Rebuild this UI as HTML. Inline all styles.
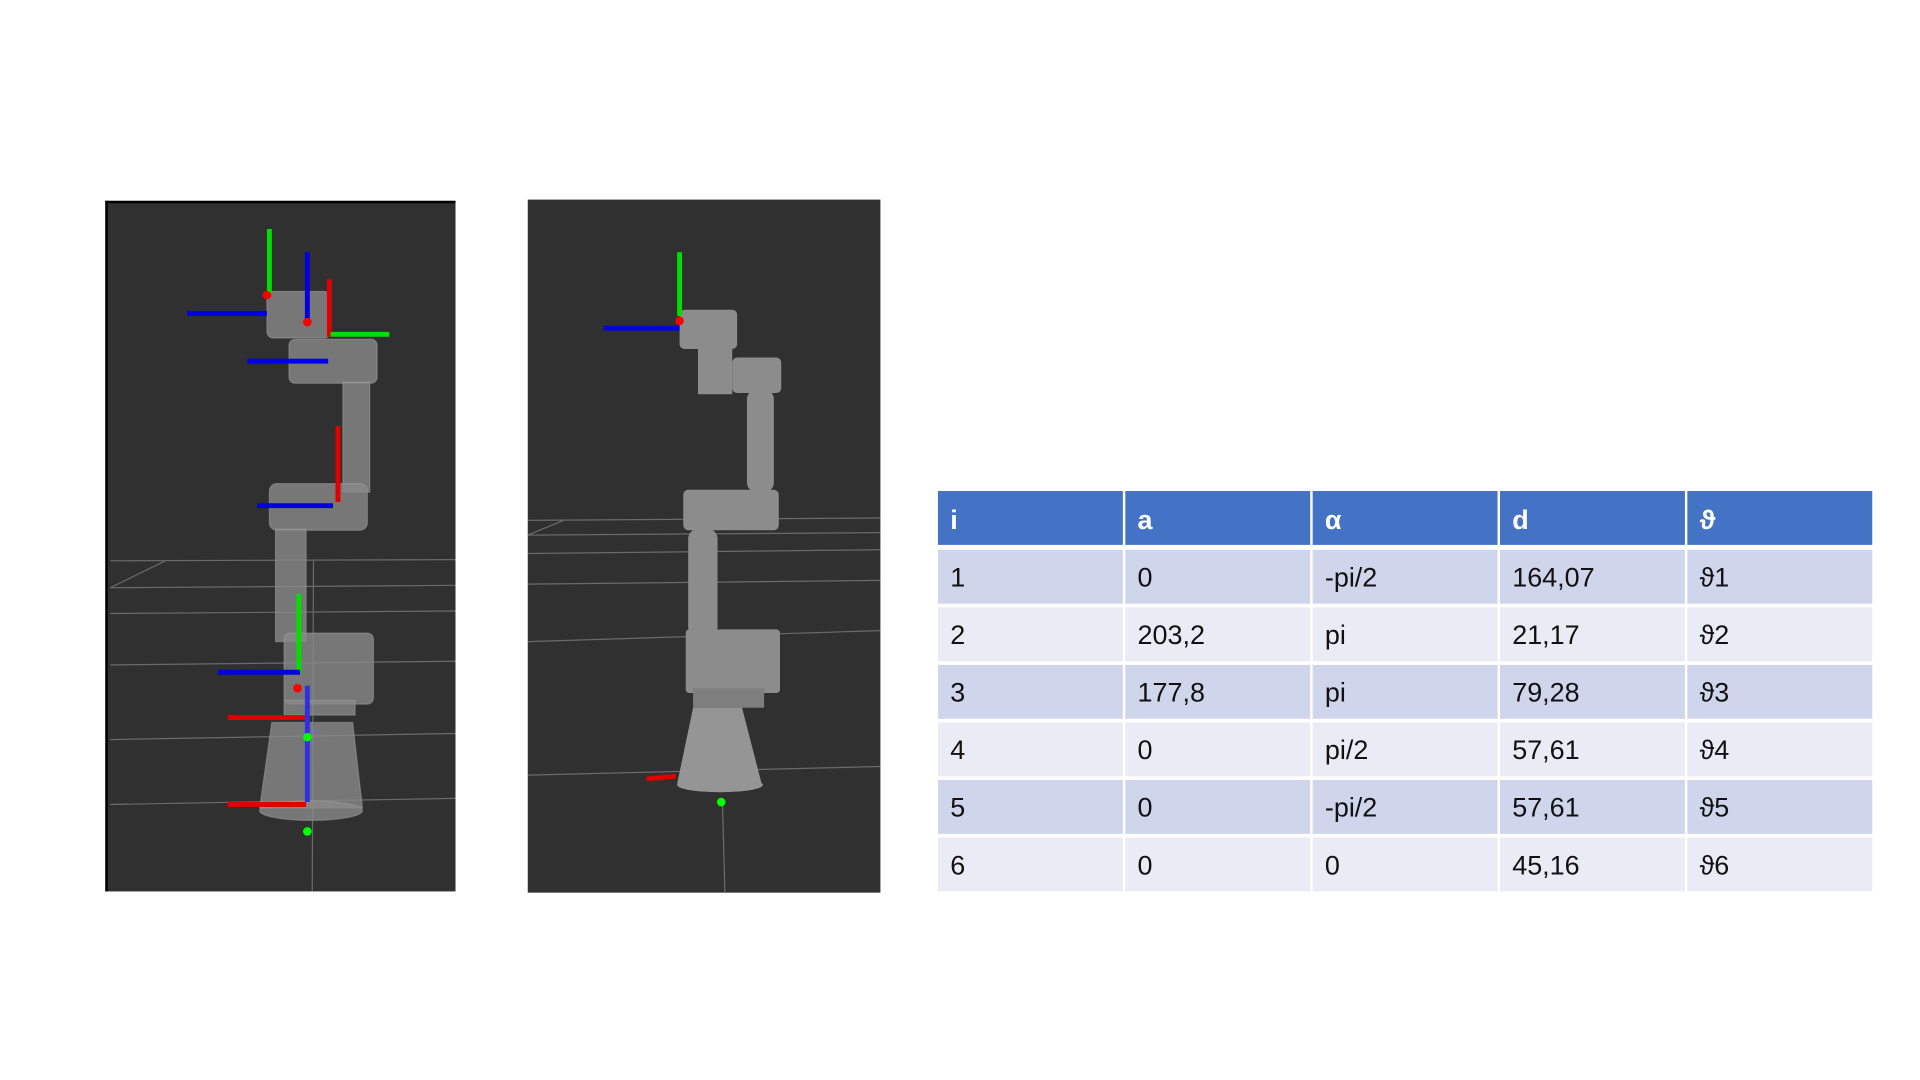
<!DOCTYPE html>
<html><head><meta charset="utf-8"><style>
html,body{margin:0;padding:0;background:#fff;}
svg{display:block;}
text{font-family:"Liberation Sans","DejaVu Sans",sans-serif;}
</style></head><body>
<svg width="1920" height="1080" viewBox="0 0 1568 882" xmlns="http://www.w3.org/2000/svg">
<rect width="1568" height="882" fill="#fff"/>

<!-- Left panel -->
<g>
<rect x="86" y="164" width="286" height="564" fill="#303030"/>
<rect x="86" y="164" width="286" height="2" fill="#000"/>
<rect x="86" y="164" width="2" height="564" fill="#000"/>
<g stroke="#6a6a6a" stroke-width="1" fill="none">
<line x1="90" y1="458" x2="372" y2="457"/><line x1="90" y1="480" x2="372" y2="478"/>
<line x1="90" y1="501" x2="372" y2="499"/><line x1="90" y1="543" x2="372" y2="540"/>
<line x1="90" y1="604" x2="372" y2="599"/><line x1="90" y1="657" x2="372" y2="652"/>
<line x1="90" y1="480" x2="135" y2="458"/><line x1="256" y1="458" x2="255" y2="728"/>
</g>
<g fill="#8a8a8a" fill-opacity="0.8" stroke="#a0a0a0" stroke-opacity="0.5">
<rect x="218" y="238" width="52" height="38" rx="5"/>
<rect x="236" y="277" width="72" height="36" rx="5"/>
<rect x="280" y="312" width="22" height="90"/>
<rect x="220" y="395" width="80" height="38" rx="6"/>
<rect x="225" y="432" width="25" height="92"/>
<rect x="232" y="517" width="73" height="58" rx="5"/>
<rect x="232" y="572" width="58" height="12"/>
<polygon points="222,590 288,590 296,660 212,660"/>
<ellipse cx="254" cy="662" rx="42" ry="8"/>
</g>
<g stroke-width="4">
<line x1="220" y1="187" x2="220" y2="240" stroke="#00e000"/>
<line x1="153" y1="256" x2="218" y2="256" stroke="#0000e0"/>
<line x1="251" y1="206" x2="251" y2="262" stroke="#0000e0"/>
<line x1="269" y1="228" x2="269" y2="275" stroke="#e00000"/>
<line x1="270" y1="273" x2="318" y2="273" stroke="#00e000"/>
<line x1="202" y1="295" x2="268" y2="295" stroke="#0000e0"/>
<line x1="276" y1="348" x2="276" y2="410" stroke="#e00000"/>
<line x1="210" y1="413" x2="272" y2="413" stroke="#0000e0"/>
<line x1="244" y1="485" x2="244" y2="550" stroke="#00e000"/>
<line x1="178" y1="549" x2="245" y2="549" stroke="#0000e0"/>
<line x1="186" y1="586" x2="250" y2="586" stroke="#e00000"/>
<line x1="251" y1="560" x2="251" y2="655" stroke="#3030e0"/>
<line x1="186" y1="657" x2="250" y2="657" stroke="#e00000"/>
<circle cx="218" cy="241" r="3.5" fill="#f00"/><circle cx="251" cy="263" r="3.5" fill="#f00"/>
<circle cx="243" cy="562" r="3.5" fill="#f00"/>
<circle cx="251" cy="602" r="3.5" fill="#0f0"/><circle cx="251" cy="679" r="3.5" fill="#0f0"/>
</g>
</g>

<!-- Right panel -->
<g>
<rect x="431" y="163" width="288" height="566" fill="#303030"/>
<g stroke="#6a6a6a" stroke-width="1" fill="none">
<line x1="431" y1="425" x2="719" y2="423"/><line x1="431" y1="437" x2="719" y2="435"/>
<line x1="431" y1="452" x2="719" y2="449"/><line x1="431" y1="477" x2="719" y2="474"/>
<line x1="431" y1="524" x2="719" y2="515"/><line x1="431" y1="633" x2="719" y2="626"/>
<line x1="431" y1="437" x2="460" y2="425"/><line x1="590" y1="655" x2="592" y2="729"/>
</g>
<g fill="#8c8c8c">
<rect x="555" y="253" width="47" height="32" rx="4"/>
<rect x="570" y="284" width="28" height="38"/>
<rect x="598" y="292" width="40" height="29" rx="4"/>
<rect x="610" y="318" width="22" height="84" rx="8"/>
<rect x="558" y="400" width="78" height="33" rx="4"/>
<rect x="562" y="432" width="24" height="88" rx="8"/>
<rect x="560" y="514" width="77" height="52" rx="3"/>
<rect x="566" y="562" width="58" height="16" fill="#7e7e7e"/>
<polygon points="566,578 606,578 622,640 553,640" fill="#959595"/>
<ellipse cx="588" cy="641" rx="35" ry="6" fill="#959595"/>
</g>
<g stroke-width="4">
<line x1="555" y1="206" x2="555" y2="258" stroke="#00e000"/>
<line x1="493" y1="268" x2="555" y2="268" stroke="#0000e0"/>
<line x1="528" y1="636" x2="552" y2="634" stroke="#e00000"/>
<circle cx="555" cy="262" r="3.5" fill="#f00"/>
<circle cx="589" cy="655" r="3.5" fill="#0f0"/>
</g>
</g>

<!-- DH table -->
<g>
<rect x="766" y="401" width="763" height="44" fill="#4472C4"/>
<g fill="#fff" font-weight="bold" font-size="22">
<text x="776" y="432">i</text><text x="929" y="432">a</text><text x="1082" y="432">α</text><text x="1235" y="432">d</text><text x="1388" y="432">ϑ</text>
</g>
<g id="rows"></g>
<g fill="#fff">
<rect x="917" y="401" width="2" height="327"/><rect x="1070" y="401" width="2" height="327"/>
<rect x="1223" y="401" width="2" height="327"/><rect x="1376" y="401" width="2" height="327"/>
</g>
</g>
</svg>
<script>
const rowsI=["1","2","3","4","5","6"];
const colA=["0","203,2","177,8","0","0","0"];
const colAlpha=["-pi/2","pi","pi","pi/2","-pi/2","0"];
const colD=["164,07","21,17","79,28","57,61","57,61","45,16"];
const colTheta=["ϑ1","ϑ2","ϑ3","ϑ4","ϑ5","ϑ6"];
const NS="http://www.w3.org/2000/svg";
const g=document.getElementById('rows');
const xs=[776,929,1082,1235,1388];
for(let r=0;r<6;r++){
  const y=449+r*47;
  const rc=document.createElementNS(NS,'rect');
  rc.setAttribute('x',766);rc.setAttribute('y',y);rc.setAttribute('width',763);rc.setAttribute('height',44);
  rc.setAttribute('fill',r%2===0?'#CFD5EA':'#E9EBF5');
  
  
  g.appendChild(rc);
  const vals=[rowsI[r],colA[r],colAlpha[r],colD[r],colTheta[r]];
  vals.forEach((v,c)=>{
    const t=document.createElementNS(NS,'text');
    t.setAttribute('x',xs[c]);t.setAttribute('y',y+30);t.setAttribute('font-size','22');t.setAttribute('fill','#111');
    t.textContent=v;
    
    
    g.appendChild(t);
  });
}
</script>
</body></html>
